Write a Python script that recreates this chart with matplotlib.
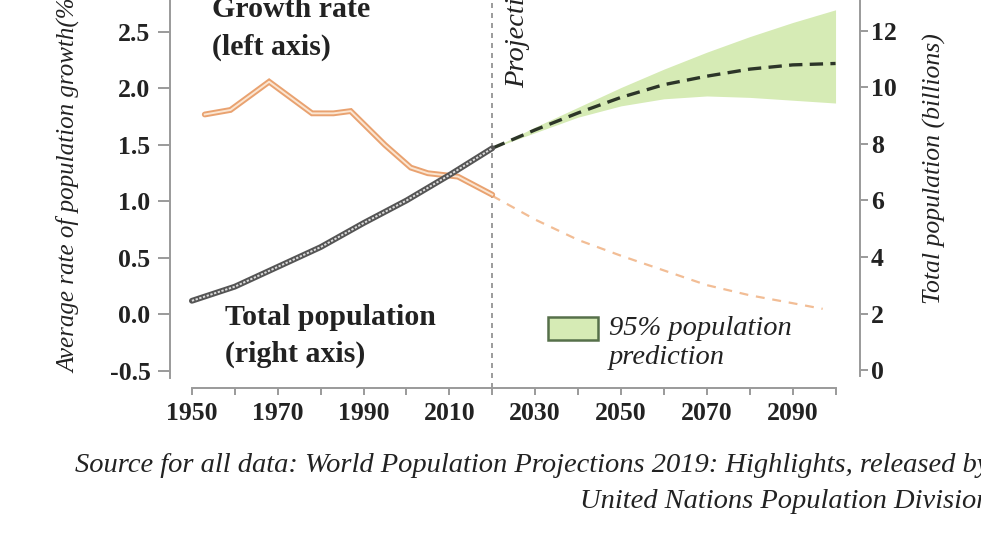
import matplotlib
matplotlib.use("Agg")
import matplotlib.pyplot as plt
from matplotlib.patches import Rectangle

plt.rcParams['font.family'] = ['Liberation Serif', 'DejaVu Serif']

W, H = 981, 542

# Growth rate (% per year), left axis
growth_years = [1953, 1959, 1968, 1978, 1983, 1987, 1995, 2001, 2005, 2012, 2020]
growth_rate = [1.77, 1.81, 2.06, 1.78, 1.78, 1.80, 1.50, 1.30, 1.25, 1.22, 1.06]
growth_proj_years = [2020, 2030, 2040, 2050, 2060, 2070, 2080, 2090, 2097]
growth_proj = [1.05, 0.84, 0.66, 0.52, 0.39, 0.26, 0.17, 0.10, 0.05]

# Total population (billions), right axis
pop_years = [1950, 1960, 1970, 1980, 1990, 2000, 2010, 2020]
pop = [2.45, 2.95, 3.65, 4.35, 5.2, 6.0, 6.9, 7.85]
proj_years = [2020, 2030, 2040, 2050, 2060, 2070, 2080, 2090, 2100]
pop_proj = [7.85, 8.5, 9.1, 9.65, 10.1, 10.4, 10.65, 10.8, 10.85]
pop_upper = [7.85, 8.6, 9.3, 10.0, 10.65, 11.25, 11.8, 12.3, 12.75]
pop_lower = [7.85, 8.4, 8.95, 9.35, 9.6, 9.7, 9.65, 9.55, 9.45]

left_ticks = [-0.5, 0.0, 0.5, 1.0, 1.5, 2.0, 2.5]
right_ticks = [0, 2, 4, 6, 8, 10, 12]
decade_ticks = list(range(1950, 2101, 10))
year_labels = [str(y) if (y - 1950) % 20 == 0 else '' for y in decade_ticks]


def fx(x):
    return x / W


def fy(y):
    return 1 - y / H


fig = plt.figure(figsize=(W / 100, H / 100), dpi=100)
ax = fig.add_axes([fx(170), fy(378), fx(860) - fx(170), fy(0) - fy(378)])
ax2 = ax.twinx()

ax.set_xlim(1944.9, 2105.7)
ax.set_ylim(-0.562, 2.783)
ax2.set_ylim(-0.283, 13.097)

grey = '#9a9a9a'
for a in (ax, ax2):
    a.patch.set_visible(False)
    for s in a.spines.values():
        s.set_visible(False)
ax.spines['left'].set_visible(True)
ax.spines['bottom'].set_visible(True)
ax2.spines['right'].set_visible(True)
for s in (ax.spines['left'], ax.spines['bottom'], ax2.spines['right']):
    s.set_color(grey)
    s.set_linewidth(1.4)
ax.spines['bottom'].set_position(('outward', 7.5))
ax.spines['bottom'].set_bounds(1950, 2100)
ax.spines['left'].set_bounds(-0.562, 2.783)
ax2.spines['right'].set_bounds(-0.2, 13.097)

ax.set_yticks(left_ticks)
ax.set_yticklabels([f'{v:.1f}' for v in left_ticks])
ax2.set_yticks(right_ticks)
ax2.set_yticklabels([str(v) for v in right_ticks])
ax.set_xticks(decade_ticks)
ax.set_xticklabels(year_labels)

ax.tick_params(axis='y', length=9, width=1.4, color=grey, pad=5)
ax2.tick_params(axis='y', length=6, width=1.4, color=grey, pad=2)
ax.tick_params(axis='x', length=5, width=1.4, color=grey, pad=5)
for lab in ax.get_yticklabels() + ax2.get_yticklabels() + ax.get_xticklabels():
    lab.set_fontsize(18.5)
    lab.set_fontweight('bold')
    lab.set_color('#222222')

# projection divider
ax.plot([2020, 2020], [-0.65, 2.783], color='#8a8a8a', lw=1.2,
        dashes=(3, 3), clip_on=False, zorder=1)

# 95% band and projected population
ax2.fill_between(proj_years, pop_lower, pop_upper, color='#d6ebb5', lw=0, zorder=1)
ax2.plot(proj_years, pop_proj, color='#2c3528', lw=2.4, dashes=(4, 2.2), zorder=3)

# historical population, hollow tube style
ax2.plot(pop_years, pop, color='#555555', lw=4.2, solid_capstyle='round', zorder=4)
ax2.plot(pop_years, pop, color='#dcdcdc', lw=1.4, dashes=(1.2, 0.8), zorder=5)

# growth rate
ax.plot(growth_proj_years, growth_proj, color='#f2bd95', lw=1.6, dashes=(4, 3.5), zorder=3)
ax.plot(growth_years, growth_rate, color='#e9a270', lw=4.2, solid_joinstyle='miter',
        solid_capstyle='round', zorder=4)
ax.plot(growth_years, growth_rate, color='#fbe6d2', lw=1.4, zorder=5)

# annotations
bold = dict(fontsize=21.5, fontweight='bold', color='#222222')
fig.text(fx(212), fy(17), 'Growth rate', va='baseline', **bold)
fig.text(fx(212), fy(55), '(left axis)', va='baseline', **bold)
fig.text(fx(225), fy(325), 'Total population', va='baseline', **bold)
fig.text(fx(225), fy(362), '(right axis)', va='baseline', **bold)

ital = dict(fontsize=20.5, fontstyle='italic', color='#222222')
fig.add_artist(Rectangle((fx(548), fy(340)), fx(598) - fx(548), fy(317) - fy(340),
                         transform=fig.transFigure, facecolor='#d6ebb5',
                         edgecolor='#56704a', lw=1.8))
fig.text(fx(609), fy(335), '95% population', va='baseline', **ital)
fig.text(fx(609), fy(364), 'prediction', va='baseline', **ital)

fig.text(fx(518), fy(88), 'Projection', rotation=90, ha='center', va='bottom', **ital)

fig.text(fx(69), fy(373), 'Average rate of population growth(%)', rotation=90,
         ha='center', va='bottom', fontsize=18, fontstyle='italic', color='#222222')
fig.text(fx(934), fy(169), 'Total population (billions)', rotation=90,
         ha='center', va='center', fontsize=18.5, fontstyle='italic', color='#222222')

src = dict(fontsize=20.5, fontstyle='italic', color='#222222')
fig.text(fx(75), fy(472), 'Source for all data: World Population Projections 2019: '
         'Highlights, released by', va='baseline', **src)
fig.text(fx(580), fy(508), 'United Nations Population Division', va='baseline', **src)

fig.savefig('out.png', dpi=100)
